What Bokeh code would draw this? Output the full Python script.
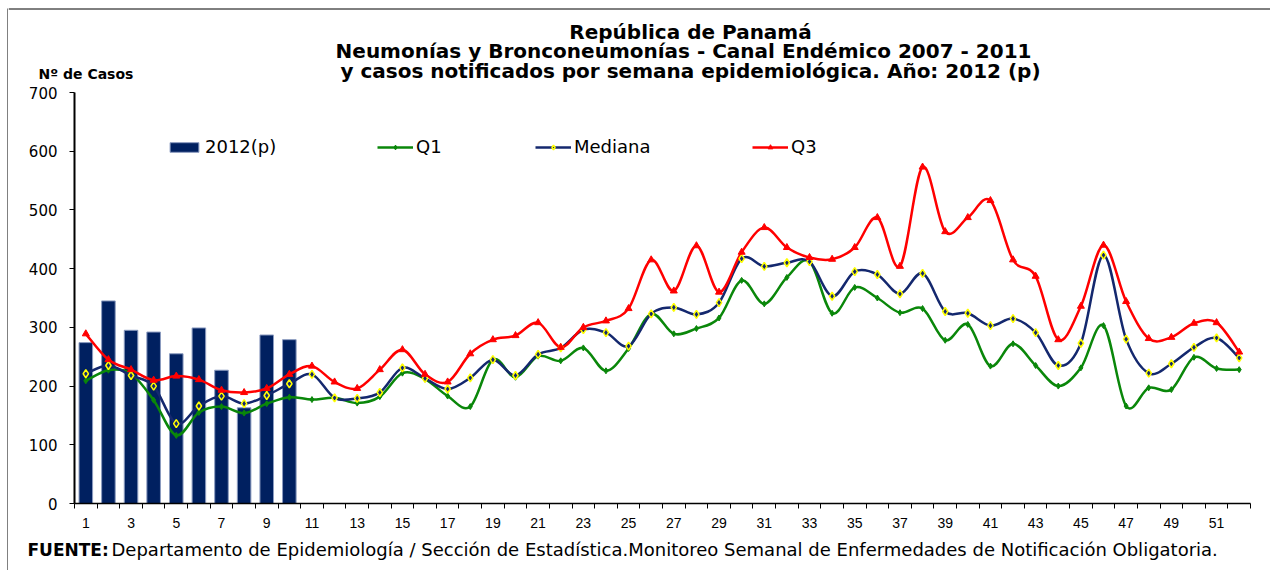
from bokeh.plotting import figure
from bokeh.models import FixedTicker, Legend, LegendItem, Range1d
from bokeh.layouts import column, row
from bokeh.core.properties import value
from bokeh.embed import file_html
from bokeh.resources import INLINE
import numpy as np

# ---------------- data ----------------
weeks = list(range(1, 53))
bar_weeks = list(range(1, 11))
casos_2012 = [274, 345, 295, 292, 255, 299, 227, 163, 287, 279]
q1 = [209, 227, 221, 176, 116, 155, 165, 154, 170, 181,
      177, 180, 171, 182, 222, 212, 183, 165, 245, 215,
      251, 243, 265, 226, 264, 323, 289, 298, 316, 380,
      340, 385, 412, 324, 368, 350, 325, 332, 278, 305,
      234, 272, 235, 200, 231, 303, 166, 197, 194, 249,
      230, 228]
mediana = [221, 235, 218, 200, 136, 166, 183, 170, 184, 204,
           220, 180, 179, 189, 231, 213, 195, 214, 245, 218,
           254, 265, 296, 291, 268, 323, 334, 322, 342, 417,
           404, 410, 412, 353, 395, 390, 357, 392, 327, 324,
           303, 315, 291, 235, 273, 423, 280, 222, 238, 266,
           282, 248]
q3 = [289, 245, 228, 210, 217, 211, 193, 189, 196, 220,
      234, 207, 196, 228, 262, 220, 207, 255, 279, 286,
      308, 266, 300, 311, 332, 415, 362, 439, 360, 428,
      470, 436, 419, 416, 436, 487, 404, 573, 463, 487,
      516, 415, 387, 279, 336, 440, 344, 281, 283, 307,
      308, 258]
label_weeks = list(range(1, 53, 2))
y_ticks = [0, 100, 200, 300, 400, 500, 600, 700]
title_lines = ["República de Panamá",
               "Neumonías y Bronconeumonías - Canal Endémico 2007  -  2011",
               "y casos notificados por semana epidemiológica. Año: 2012 (p)"]
y_title = "Nº de Casos"
fuente_bold = "FUENTE:"
fuente_text = ("Departamento de Epidemiología / Sección de Estadística.Monitoreo  "
               "Semanal de Enfermedades de Notificación Obligatoria.")

NAVY = "#002060"
GREEN = "#0A870A"
MED = "#14286E"
RED = "#FF0000"
W = 1262
H_TOP, H_MAIN, H_BOT = 84, 451, 35


def bezier_segments(xs, ys, t=1.0 / 6.0):
    x = np.asarray(xs, float)
    y = np.asarray(ys, float)
    xp = np.concatenate([[x[0]], x, [x[-1]]])
    yp = np.concatenate([[y[0]], y, [y[-1]]])
    n = len(x)
    seg = dict(x0=[], y0=[], x1=[], y1=[], cx0=[], cy0=[], cx1=[], cy1=[])
    for i in range(n - 1):
        k = i + 1
        seg["x0"].append(xp[k]); seg["y0"].append(yp[k])
        seg["x1"].append(xp[k + 1]); seg["y1"].append(yp[k + 1])
        seg["cx0"].append(xp[k] + (xp[k + 1] - xp[k - 1]) * t)
        seg["cy0"].append(yp[k] + (yp[k + 1] - yp[k - 1]) * t)
        seg["cx1"].append(xp[k + 1] - (xp[k + 2] - xp[k]) * t)
        seg["cy1"].append(yp[k + 1] - (yp[k + 2] - yp[k]) * t)
    return seg


def no_align(f):
    try:
        f.frame_align = False
    except Exception:
        pass


def text_strip(w, h):
    f = figure(width=w, height=h, output_backend="svg", toolbar_location=None,
               x_range=Range1d(0, w), y_range=Range1d(h, 0),
               min_border=0, x_axis_type=None, y_axis_type=None)
    f.outline_line_color = None
    f.xgrid.visible = False
    f.ygrid.visible = False
    f.border_fill_color = "white"
    no_align(f)
    return f


# ---------------- left strip carrying the outer frame line ----------------
left = text_strip(8, H_TOP + H_MAIN + H_BOT)
left.segment(x0=[7.5], y0=[8], x1=[7.5], y1=[H_TOP + H_MAIN + H_BOT],
             line_color="black", line_width=1)
left.segment(x0=[7.5], y0=[8.5], x1=[8], y1=[8.5], line_color="black", line_width=1)

# ---------------- header strip ----------------
top = text_strip(W, H_TOP)
top.segment(x0=[0], y0=[8.5], x1=[W], y1=[8.5], line_color="black", line_width=1)
top.text(x=[682, 682, 682], y=[31, 50, 70], text=title_lines,
         text_font=value("DejaVu Sans"), text_font_style="bold",
         text_font_size="20px", text_align="center", text_baseline="middle",
         text_color="black")
top.text(x=[30], y=[73], text=[y_title], text_font=value("DejaVu Sans"),
         text_font_style="bold", text_font_size="14px", text_align="left",
         text_baseline="middle", text_color="black")

# ---------------- main chart ----------------
p = figure(width=W, height=H_MAIN, output_backend="svg", toolbar_location=None,
           x_range=(0.5, 52.5), y_range=(0, 700),
           min_border_left=66, min_border_right=20, min_border_top=8,
           min_border_bottom=32)
no_align(p)
p.outline_line_color = None
p.xgrid.grid_line_color = None
p.ygrid.grid_line_color = None
p.background_fill_color = "white"
p.border_fill_color = "white"

bars = p.vbar(x=bar_weeks, top=casos_2012, width=0.6, fill_color=NAVY,
              line_color="#8C9CC0", line_width=1)

b1 = p.bezier(line_color=GREEN, line_width=2.5, **bezier_segments(weeks, q1))
b2 = p.bezier(line_color=MED, line_width=2.5, **bezier_segments(weeks, mediana))
b3 = p.bezier(line_color=RED, line_width=2.5, **bezier_segments(weeks, q3))

m1 = p.scatter(weeks, q1, marker="diamond", size=6, fill_color=GREEN, line_color=GREEN)
m2 = p.scatter(weeks, mediana, marker="diamond", size=8, fill_color=MED,
               line_color="#FFFF00", line_width=1.5)
m3 = p.scatter(weeks, q3, marker="triangle", size=7, fill_color=RED, line_color=RED)

p.xaxis.ticker = FixedTicker(ticks=label_weeks,
                             minor_ticks=[w - 0.5 for w in range(1, 54)])
p.xaxis.major_tick_out = 0
p.xaxis.major_tick_in = 0
p.xaxis.minor_tick_out = 5
p.xaxis.minor_tick_in = 0
p.xaxis.minor_tick_line_color = "black"
p.xaxis.axis_line_color = "black"
p.xaxis.axis_line_width = 1.5
p.xaxis.major_label_standoff = 9
p.xaxis.major_label_text_font = "Liberation Sans"
p.xaxis.major_label_text_font_size = "14px"
p.xaxis.major_label_text_color = "black"

p.yaxis.ticker = FixedTicker(ticks=y_ticks)
p.yaxis.minor_tick_line_color = None
p.yaxis.major_tick_out = 5
p.yaxis.major_tick_in = 0
p.yaxis.major_tick_line_color = "black"
p.yaxis.axis_line_color = "black"
p.yaxis.axis_line_width = 2
p.yaxis.major_label_standoff = 12
p.yaxis.major_label_text_font = "DejaVu Sans"
p.yaxis.major_label_text_font_size = "15px"
p.yaxis.major_label_text_color = "black"

entries = [("2012(p)", [bars], 92), ("Q1", [b1, m1], 303),
           ("Mediana", [b2, m2], 461), ("Q3", [b3, m3], 678)]
for name, rends, xpos in entries:
    lg = Legend(items=[LegendItem(label=name, renderers=rends)],
                location=(xpos, 346), orientation="horizontal",
                padding=0, margin=0, border_line_color=None,
                background_fill_alpha=0, glyph_width=36, glyph_height=12,
                label_standoff=3, label_text_font="DejaVu Sans",
                label_text_font_size="18px", label_text_color="black")
    p.add_layout(lg, "center")

# ---------------- footer strip ----------------
bot = text_strip(W, H_BOT)
bot.text(x=[19], y=[14], text=[fuente_bold], text_font=value("DejaVu Sans"),
         text_font_style="bold", text_font_size="17px", text_align="left",
         text_baseline="middle", text_color="black")
bot.text(x=[103], y=[14], text=[fuente_text], text_font=value("DejaVu Sans"),
         text_font_size="18px", text_align="left", text_baseline="middle",
         text_color="black")

layout = row(left, column(top, p, bot, spacing=0), spacing=0)
open("out.html", "w").write(file_html(layout, INLINE))
